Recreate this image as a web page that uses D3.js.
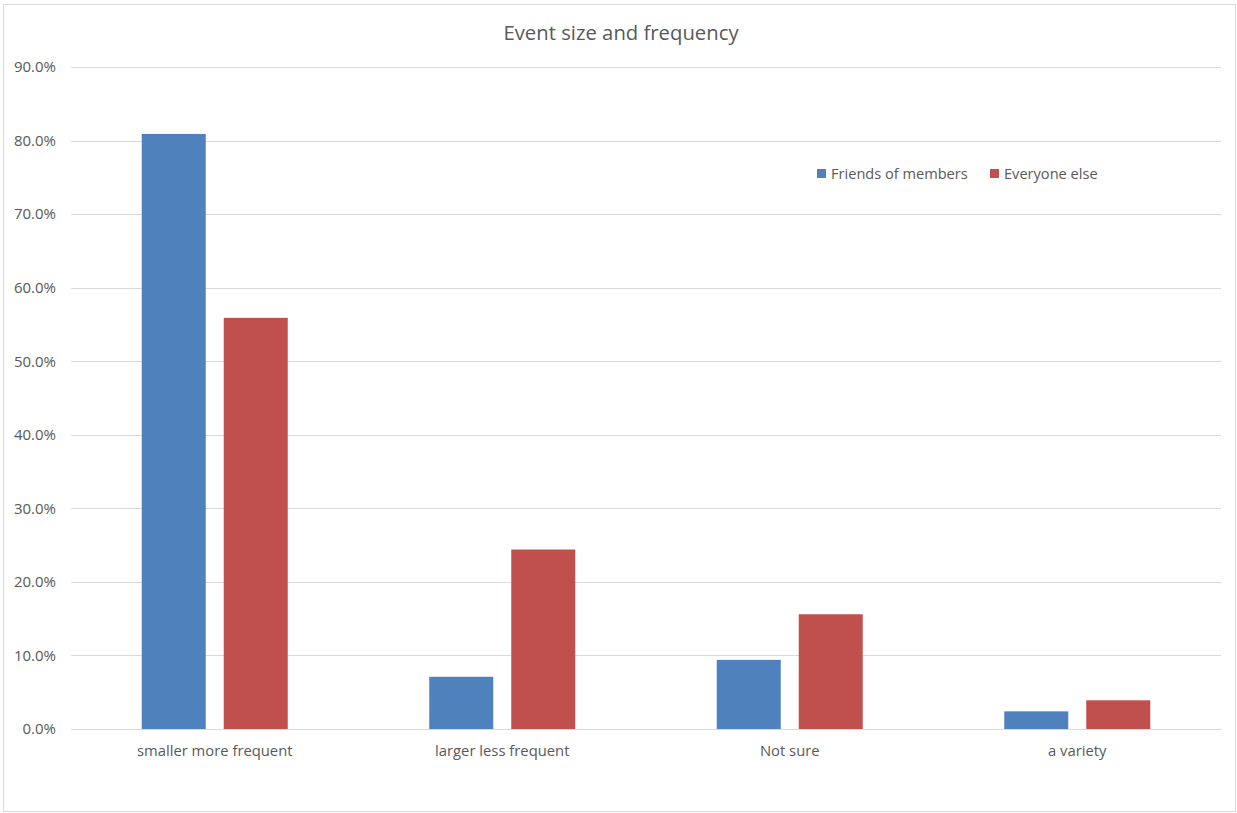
<!DOCTYPE html>
<html>
<head>
<meta charset="utf-8">
<script src="https://cdn.jsdelivr.net/npm/d3@7"></script>
<style>
  html, body { margin: 0; padding: 0; background: #fff; }
  svg { display: block; }
  text { font-family: "Open Sans", "Noto Sans", sans-serif; fill: #595959; }
</style>
</head>
<body>
<svg id="chart" width="1237" height="813"></svg>
<script>
// Survey answers: preferred event size and frequency, share of respondents
const categories = ["smaller more frequent", "larger less frequent", "Not sure", "a variety"];
const seriesNames = ["Friends of members", "Everyone else"];
const friendsOfMembers = [0.809, 0.071, 0.094, 0.024];
const everyoneElse = [0.559, 0.244, 0.156, 0.039];
const yTicks = [0, 0.1, 0.2, 0.3, 0.4, 0.5, 0.6, 0.7, 0.8, 0.9];
const colors = ["#4F81BD", "#C0504D"];

const seriesValues = [friendsOfMembers, everyoneElse];
const rows = categories.map((c, i) => ({
  category: c,
  values: seriesNames.map((s, j) => ({ series: s, value: seriesValues[j][i], idx: j }))
}));

const svg = d3.select("#chart");
const W = 1237, H = 813;

// outer chart border
svg.append("rect")
  .attr("x", 3.5).attr("y", 4.5)
  .attr("width", W - 5).attr("height", H - 6)
  .attr("fill", "#fff").attr("stroke", "#D9D9D9").attr("stroke-width", 1);

const plot = { left: 71, right: 1221, top: 67, bottom: 729 };

const y = d3.scaleLinear().domain([0, 0.9]).range([plot.bottom, plot.top]);
const x0 = d3.scaleBand().domain(categories).range([plot.left, plot.right]).padding(0);
const groupWidth = 146;
const x1 = d3.scaleBand().domain(seriesNames).range([0, groupWidth]).paddingInner(0.2195).paddingOuter(0);

// horizontal gridlines
svg.append("g")
  .selectAll("line")
  .data(yTicks)
  .join("line")
  .attr("x1", plot.left).attr("x2", plot.right)
  .attr("y1", d => Math.round(y(d)) + 0.5).attr("y2", d => Math.round(y(d)) + 0.5)
  .attr("stroke", "#D9D9D9").attr("stroke-width", 1);

// y axis labels
const yAxis = d3.axisLeft(y).tickValues(yTicks).tickFormat(d3.format(".1%")).tickSize(0).tickPadding(15);
const yg = svg.append("g").attr("transform", `translate(${plot.left},0)`).call(yAxis);
yg.select(".domain").remove();
yg.selectAll("text").style("font-size", "15px").attr("fill", "#595959")
  .style("font-family", '"Open Sans", "Noto Sans", sans-serif');

// bars
const groups = svg.append("g")
  .selectAll("g")
  .data(rows)
  .join("g")
  .attr("transform", d => `translate(${x0(d.category) + (x0.bandwidth() - groupWidth) / 2},0)`);

groups.selectAll("rect")
  .data(d => d.values)
  .join("rect")
  .attr("x", d => x1(d.series))
  .attr("width", x1.bandwidth())
  .attr("y", d => y(d.value))
  .attr("height", d => y(0) - y(d.value))
  .attr("fill", d => colors[d.idx]);

// x axis category labels
const xAxis = d3.axisBottom(x0).tickSize(0).tickPadding(16);
const xg = svg.append("g").attr("transform", `translate(0,${plot.bottom})`).call(xAxis);
xg.select(".domain").attr("stroke", "#D9D9D9").attr("d", `M${plot.left},0.5H${plot.right}`);
xg.selectAll("text").style("font-size", "14.8px").attr("fill", "#595959")
  .style("font-family", '"Open Sans", "Noto Sans", sans-serif');

// title
svg.append("text")
  .attr("x", 621).attr("y", 40)
  .attr("text-anchor", "middle")
  .style("font-size", "20.3px")
  .text("Event size and frequency");

// legend
const legendItems = [{ name: seriesNames[0], x: 817 }, { name: seriesNames[1], x: 990 }];
const lg = svg.append("g").selectAll("g").data(legendItems).join("g")
  .attr("transform", d => `translate(${d.x},169)`);
lg.append("rect").attr("width", 9).attr("height", 9).attr("fill", (d, i) => colors[i]);
lg.append("text").attr("x", 14).attr("y", 10).style("font-size", "14.6px").text(d => d.name);
</script>
</body>
</html>
